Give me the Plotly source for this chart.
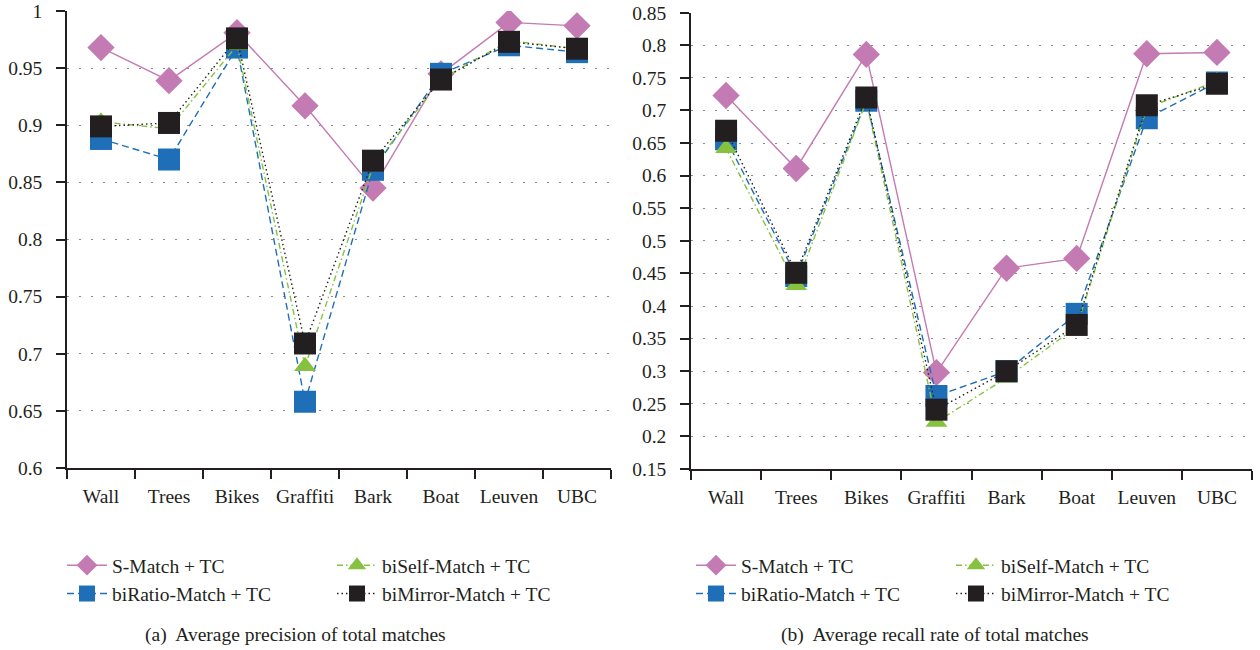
import plotly.graph_objects as go

categories = ["Wall", "Trees", "Bikes", "Graffiti", "Bark", "Boat", "Leuven", "UBC"]

# (a) average precision of total matches
prec_smatch = [0.968, 0.939, 0.981, 0.917, 0.845, 0.945, 0.990, 0.987]
prec_biratio = [0.888, 0.870, 0.968, 0.658, 0.861, 0.945, 0.970, 0.964]
prec_biself = [0.903, 0.897, 0.970, 0.689, 0.864, 0.940, 0.974, 0.967]
prec_bimirror = [0.899, 0.902, 0.976, 0.709, 0.869, 0.940, 0.973, 0.967]

# (b) average recall rate of total matches
rec_smatch = [0.723, 0.611, 0.786, 0.298, 0.458, 0.473, 0.787, 0.789]
rec_biratio = [0.656, 0.446, 0.715, 0.262, 0.300, 0.388, 0.688, 0.743]
rec_biself = [0.642, 0.432, 0.714, 0.222, 0.290, 0.368, 0.704, 0.745]
rec_bimirror = [0.669, 0.451, 0.720, 0.241, 0.300, 0.371, 0.708, 0.741]

series_names = ["S-Match + TC", "biRatio-Match + TC", "biSelf-Match + TC", "biMirror-Match + TC"]

# column of the legend each series sits in (0 = left column, 1 = right column)
styles = [
    dict(color="#c47ab3", dash="solid", symbol="diamond", size=21, col=0),
    dict(color="#1f6fb8", dash="7px,4px", symbol="square", size=22, col=0),
    dict(color="#86c240", dash="6px,3px,1.5px,3px", symbol="triangle-up", size=19, col=1),
    dict(color="#231f20", dash="1.5px,3px", symbol="square", size=22, col=1),
]

FONT = "Liberation Serif"
INK = "#231f20"
fig = go.Figure()

panels = [
    ("x", "y", ["legend", "legend2"], [prec_smatch, prec_biratio, prec_biself, prec_bimirror]),
    ("x2", "y2", ["legend3", "legend4"], [rec_smatch, rec_biratio, rec_biself, rec_bimirror]),
]
for xa, ya, legs, data in panels:
    for i, (name, vals, st) in enumerate(zip(series_names, data, styles)):
        fig.add_trace(go.Scatter(
            x=categories, y=vals, name=name, mode="lines+markers",
            xaxis=xa, yaxis=ya, legend=legs[st["col"]], legendgroup=f"{xa}{i}",
            line=dict(color=st["color"], width=1.4, dash=st["dash"]),
            marker=dict(symbol=st["symbol"], size=st["size"], color=st["color"], line=dict(width=0)),
        ))

common_x = dict(
    type="category", range=[-0.5, 7.5], showline=True, linecolor=INK, linewidth=1.5,
    ticks="outside", tickson="boundaries", ticklen=9, tickcolor=INK, tickwidth=1.5,
    showgrid=False, zeroline=False, automargin=False, ticklabelstandoff=10, tickangle=0,
    tickfont=dict(family=FONT, size=19.5, color=INK),
)
common_y = dict(
    showline=True, linecolor=INK, linewidth=1.5, ticks="outside", ticklen=9,
    tickcolor=INK, tickwidth=1.5, showgrid=True, gridcolor="#8a8a8a", gridwidth=1.2,
    griddash="1.5px,10.5px", zeroline=False, automargin=False, ticklabelstandoff=10,
    tickfont=dict(family=FONT, size=19.5, color=INK),
)


def legend_box(x_px):
    return dict(orientation="v", x=x_px / 1260, y=1 - 546 / 650, xanchor="left", yanchor="top",
                tracegroupgap=0, itemwidth=40, bgcolor="rgba(0,0,0,0)",
                font=dict(family=FONT, size=19.5, color=INK))


fig.update_layout(
    width=1260, height=650, paper_bgcolor="white", plot_bgcolor="white",
    margin=dict(l=0, r=0, t=0, b=0, autoexpand=False),
    font=dict(family=FONT, size=19.5, color=INK),
    xaxis=dict(domain=[67 / 1260, 611 / 1260], anchor="y", **common_x),
    yaxis=dict(domain=[1 - 468 / 650, 1 - 11 / 650], anchor="x", range=[0.6, 1.0], dtick=0.05,
               tickformat="~g", **common_y),
    xaxis2=dict(domain=[691 / 1260, 1252 / 1260], anchor="y2", **common_x),
    yaxis2=dict(domain=[1 - 469 / 650, 1 - 12.7 / 650], anchor="x2", range=[0.15, 0.85], dtick=0.05,
                tickformat="~g", **common_y),
    legend=legend_box(62),
    legend2=legend_box(332),
    legend3=legend_box(691),
    legend4=legend_box(951),
    annotations=[
        dict(text="(a)  Average precision of total matches", x=295 / 1260, y=1 - 635 / 650,
             xref="paper", yref="paper", xanchor="center", yanchor="middle", showarrow=False,
             font=dict(family=FONT, size=19.5)),
        dict(text="(b)  Average recall rate of total matches", x=935 / 1260, y=1 - 635 / 650,
             xref="paper", yref="paper", xanchor="center", yanchor="middle", showarrow=False,
             font=dict(family=FONT, size=19.5)),
    ],
)

fig.write_html("out.html")
